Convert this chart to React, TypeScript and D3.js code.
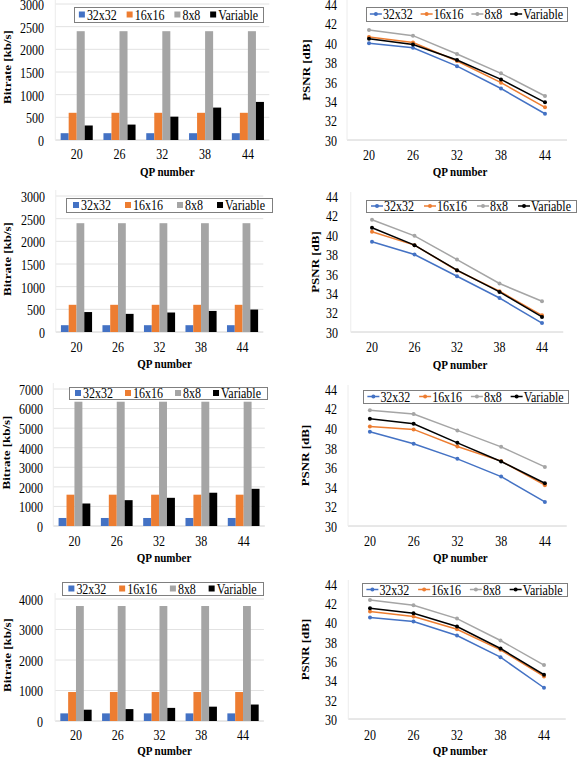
import React from 'react';
import * as d3 from 'd3';

// ---------- data ----------
const qpLabels = ['20', '26', '32', '38', '44'];
const seriesNames = ['32x32', '16x16', '8x8', 'Variable'];
const seriesColors = ['#4472C4', '#ED7D31', '#A5A5A5', '#000000'];

// Bitrate [kb/s]: rows = 32x32, 16x16, 8x8, Variable
const bitrate1 = [
  [150, 150, 150, 150, 150],
  [600, 600, 600, 600, 600],
  [2400, 2400, 2400, 2400, 2400],
  [320, 340, 515, 715, 840],
];
const bitrate2 = [
  [150, 150, 150, 150, 150],
  [600, 600, 600, 600, 600],
  [2400, 2400, 2400, 2400, 2400],
  [440, 400, 430, 465, 495],
];
const bitrate3 = [
  [410, 410, 410, 410, 410],
  [1600, 1600, 1600, 1600, 1600],
  [6350, 6350, 6350, 6350, 6350],
  [1150, 1320, 1440, 1700, 1900],
];
const bitrate4 = [
  [250, 250, 250, 250, 250],
  [950, 950, 950, 950, 950],
  [3770, 3770, 3770, 3770, 3770],
  [370, 390, 430, 470, 540],
];
const bitrateMax = [3000, 3000, 7000, 4000];
const bitrateStep = [500, 500, 1000, 1000];

// PSNR [dB]: rows = 32x32, 16x16, 8x8, Variable
const psnr1 = [
  [39.95, 39.5, 37.6, 35.3, 32.7],
  [40.6, 40.03, 38.13, 35.9, 33.36],
  [41.32, 40.74, 38.85, 36.86, 34.53],
  [40.43, 39.82, 38.23, 36.24, 33.88],
];
const psnr2 = [
  [39.29, 37.98, 35.74, 33.5, 30.92],
  [40.32, 38.94, 36.33, 34.2, 31.72],
  [41.56, 39.9, 37.46, 34.99, 33.16],
  [40.73, 38.94, 36.36, 34.13, 31.55],
];
const psnr3 = [
  [39.63, 38.4, 36.86, 35.05, 32.46],
  [40.18, 39.87, 38.13, 36.63, 34.17],
  [41.82, 41.44, 39.77, 38.09, 36.04],
  [40.96, 40.45, 38.5, 36.59, 34.37],
];
const psnr4 = [
  [40.52, 40.1, 38.66, 36.41, 33.24],
  [41.14, 40.62, 39.31, 37.17, 34.41],
  [42.34, 41.79, 40.41, 38.14, 35.59],
  [41.48, 40.97, 39.59, 37.31, 34.59],
];
const psnrTicks = [30, 32, 34, 36, 38, 40, 42, 44];

// ---------- layout ----------
const FONT = 'Liberation Serif, Times New Roman, DejaVu Serif, serif';
const SY = 1.18;

const barLayouts = [
  { left: 55.3, right: 269.3, top: 4, bottom: 140, tickRight: 44, xLab: 154.5, xTitle: 171.5, yTitleX: 7.5,
    legend: { x: 74, y: 7, w: 189, h: 15 } },
  { left: 55.75, right: 263.3, top: 196, bottom: 332, tickRight: 45, xLab: 346.7, xTitle: 363.5, yTitleX: 7.5,
    legend: { x: 66, y: 198, w: 206, h: 14 } },
  { left: 53.3, right: 264.8, top: 389, bottom: 526, tickRight: 43, xLab: 540.7, xTitle: 557.5, yTitleX: 6.5,
    legend: { x: 69, y: 387, w: 198, h: 12 } },
  { left: 55.1, right: 263.9, top: 599, bottom: 721, tickRight: 43, xLab: 735, xTitle: 751, yTitleX: 7,
    legend: { x: 62, y: 582, w: 201, h: 13 } },
];
const psnrLayouts = [
  { left: 347, right: 567, top: 4, bottom: 140, tickRight: 337, xLab: 155, xTitle: 172, yTitleX: 306,
    legend: { x: 366, y: 7, w: 201, h: 14 } },
  { left: 350.75, right: 563.25, top: 196, bottom: 332, tickRight: 338, xLab: 346.7, xTitle: 364.3, yTitleX: 315,
    legend: { x: 366, y: 200, w: 210, h: 12 } },
  { left: 348, right: 566.75, top: 389, bottom: 526, tickRight: 337, xLab: 540.7, xTitle: 557.5, yTitleX: 305,
    legend: { x: 363, y: 390, w: 205, h: 13 } },
  { left: 348.25, right: 565.75, top: 584, bottom: 719, tickRight: 337, xLab: 735, xTitle: 751, yTitleX: 305,
    legend: { x: 362, y: 583, w: 205, h: 13 } },
];

let ctx: any = null;
function measure(text: string, size: number, bold = false) {
  if (!ctx) ctx = document.createElement('canvas').getContext('2d');
  ctx.font = `${bold ? 'bold ' : ''}${size}px "Liberation Serif", serif`;
  return ctx.measureText(text).width;
}

function T({ x, y, anchor = 'middle', size = 12, bold = false, rotate = false, children }: any) {
  const tr = rotate
    ? `translate(${x},${y}) rotate(-90) scale(${SY},1)`
    : `translate(${x},${y}) scale(1,${SY})`;
  return (
    <text transform={tr} textAnchor={anchor} dominantBaseline="central"
      style={{ fontFamily: FONT, fontSize: `${size}px`, fontWeight: bold ? 700 : 400 }} fill="#000">
      {children}
    </text>
  );
}

function Legend({ box, kind }: any) {
  const size = 12;
  const markW = kind === 'bar' ? 6 : 12;
  const gapT = kind === 'bar' ? 2 : 1;
  const widths = seriesNames.map((s) => markW + gapT + measure(s, size));
  const content = d3.sum(widths);
  const gap = (box.w - content) / seriesNames.length;
  let cx = box.x + gap / 2;
  const cy = box.y + box.h / 2;
  const items = seriesNames.map((s, i) => {
    const x0 = cx;
    cx += widths[i] + gap;
    return (
      <g key={s}>
        {kind === 'bar' ? (
          <rect x={x0} y={cy - 3} width={6} height={6} fill={seriesColors[i]} />
        ) : (
          <g>
            <line x1={x0} x2={x0 + markW} y1={cy} y2={cy} stroke={seriesColors[i]} strokeWidth={1.5} />
            <circle cx={x0 + markW / 2} cy={cy} r={2} fill={seriesColors[i]} />
          </g>
        )}
        <T x={x0 + markW + gapT} y={cy + 0.5} anchor="start" size={size}>{s}</T>
      </g>
    );
  });
  return (
    <g>
      <rect x={box.x + 0.5} y={box.y + 0.5} width={box.w} height={box.h} fill="#fff" stroke="#7f7f7f" strokeWidth={1} />
      {items}
    </g>
  );
}

function BarPanel({ data, max, step, L }: any) {
  const x = d3.scaleBand().domain(qpLabels).range([L.left, L.right]).paddingInner(0.25).paddingOuter(0.125);
  const xs = d3.scaleBand().domain(seriesNames).range([0, x.bandwidth()]);
  const y = d3.scaleLinear().domain([0, max]).range([L.bottom, L.top]);
  const ticks = d3.range(0, max + 1, step);
  const plotL = L.left;
  const plotR = L.right;
  return (
    <g>
      {ticks.map((t) => (
        <line key={t} x1={plotL} x2={plotR} y1={y(t)} y2={y(t)} stroke={t === 0 ? '#d0d0d0' : '#e2e2e2'} strokeWidth={1} />
      ))}
      <line x1={plotL} x2={plotL} y1={L.top - 6} y2={L.bottom} stroke="#ececec" strokeWidth={1} />
      {data.map((vals: number[], si: number) =>
        vals.map((v, qi) => (
          <rect key={`${si}-${qi}`} x={(x(qpLabels[qi]) as number) + (xs(seriesNames[si]) as number)}
            y={y(v)} width={xs.bandwidth()} height={y(0) - y(v)} fill={seriesColors[si]} />
        ))
      )}
      {ticks.map((t) => (
        <T key={t} x={L.tickRight} y={y(t) + 1} anchor="end">{String(t)}</T>
      ))}
      {qpLabels.map((q) => (
        <T key={q} x={(x(q) as number) + x.bandwidth() / 2} y={L.xLab}>{q}</T>
      ))}
      <T x={(L.left + L.right) / 2 + 5} y={L.xTitle} bold size={11}>QP number</T>
      <T x={L.yTitleX} y={(L.top + L.bottom) / 2 - 5} bold size={11} rotate>Bitrate [kb/s]</T>
      <Legend box={L.legend} kind="bar" />
    </g>
  );
}

function PsnrPanel({ data, L }: any) {
  const x = d3.scalePoint().domain(qpLabels).range([L.left, L.right]).padding(0.5);
  const y = d3.scaleLinear().domain([30, 44]).range([L.bottom, L.top]);
  const line = d3.line<number>().x((_d, i) => x(qpLabels[i]) as number).y((d) => y(d));
  return (
    <g>
      <line x1={L.left} x2={L.right} y1={y(30)} y2={y(30)} stroke="#d0d0d0" strokeWidth={1} />
      <line x1={L.left} x2={L.left} y1={L.top - 4} y2={y(30)} stroke="#ececec" strokeWidth={1} />
      {data.map((vals: number[], si: number) => (
        <g key={si}>
          <path d={line(vals) as string} fill="none" stroke={seriesColors[si]} strokeWidth={1.5} />
          {vals.map((v, qi) => (
            <circle key={qi} cx={x(qpLabels[qi]) as number} cy={y(v)} r={2} fill={seriesColors[si]} />
          ))}
        </g>
      ))}
      {psnrTicks.map((t) => (
        <T key={t} x={L.tickRight} y={y(t) + 1} anchor="end">{String(t)}</T>
      ))}
      {qpLabels.map((q) => (
        <T key={q} x={x(q) as number} y={L.xLab}>{q}</T>
      ))}
      <T x={(L.left + L.right) / 2 + 3} y={L.xTitle} bold size={11}>QP number</T>
      <T x={L.yTitleX} y={(L.top + L.bottom) / 2 - 2} bold size={11} rotate>PSNR [dB]</T>
      <Legend box={L.legend} kind="line" />
    </g>
  );
}

export default function App() {
  const bitrates = [bitrate1, bitrate2, bitrate3, bitrate4];
  const psnrs = [psnr1, psnr2, psnr3, psnr4];
  return (
    <svg width={577} height={757} style={{ position: 'absolute', left: 0, top: 0, background: '#fff' }}>
      <rect width={577} height={757} fill="#fff" />
      {bitrates.map((b, i) => (
        <BarPanel key={`b${i}`} data={b} max={bitrateMax[i]} step={bitrateStep[i]} L={barLayouts[i]} />
      ))}
      {psnrs.map((p, i) => (
        <PsnrPanel key={`p${i}`} data={p} L={psnrLayouts[i]} />
      ))}
    </svg>
  );
}
